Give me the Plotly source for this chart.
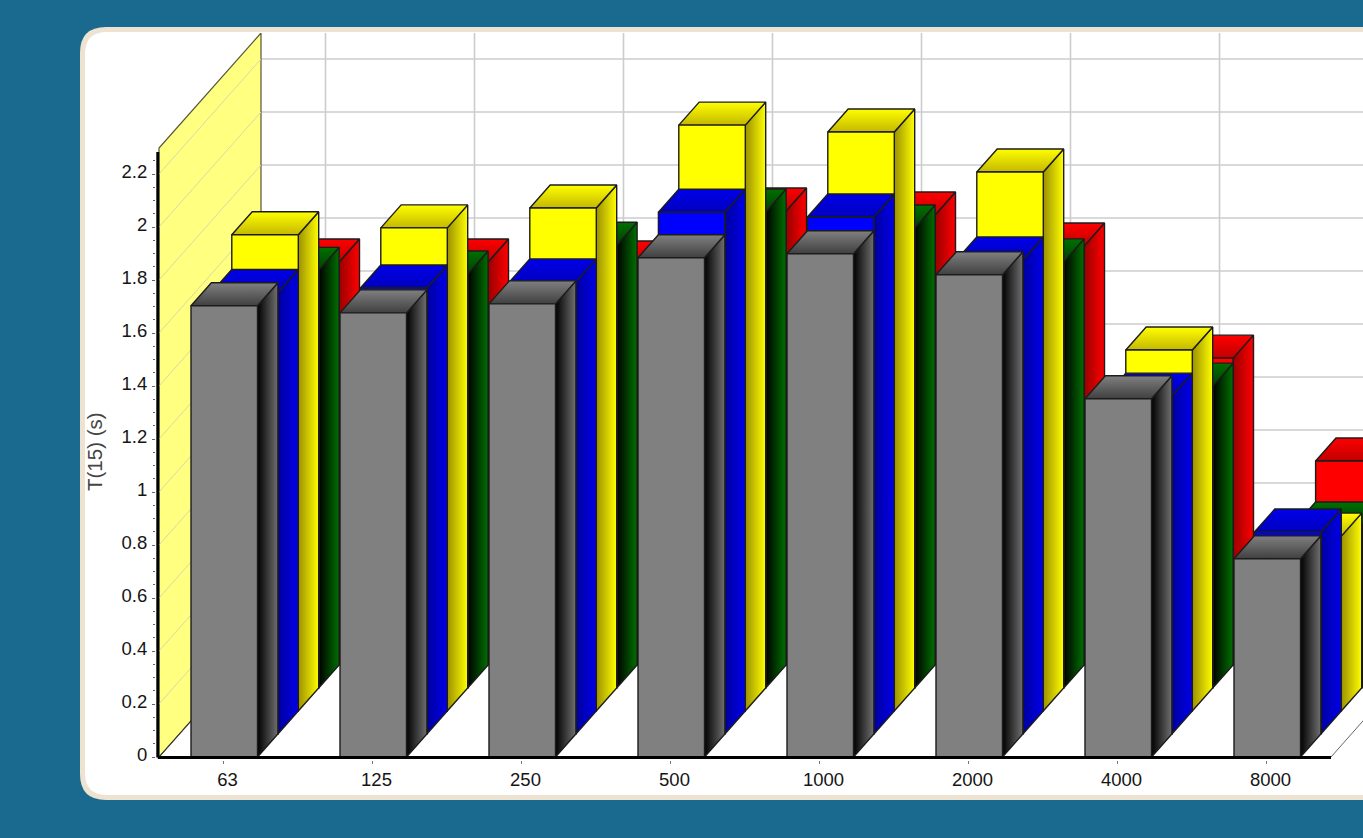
import plotly.graph_objects as go

# Reverberation time per octave band, five measurement series
bands = ["63", "125", "250", "500", "1000", "2000", "4000", "8000"]
gray_vals = [1.703, 1.676, 1.710, 1.884, 1.899, 1.820, 1.352, 0.748]
blue_vals = [1.666, 1.683, 1.706, 1.969, 1.951, 1.789, 1.275, 0.762]
yellow_vals = [1.797, 1.823, 1.898, 2.211, 2.185, 2.034, 1.362, 0.660]
green_vals = [1.576, 1.562, 1.671, 1.796, 1.736, 1.608, 1.139, 0.615]
red_vals = [1.521, 1.521, 1.513, 1.713, 1.698, 1.581, 1.158, 0.770]

y_ticks = [0, 0.2, 0.4, 0.6, 0.8, 1, 1.2, 1.4, 1.6, 1.8, 2, 2.2]
y_tick_text = ["0", "0.2", "0.4", "0.6", "0.8", "1", "1.2", "1.4", "1.6", "1.8", "2", "2.2"]

# Page and plot-area geometry; the plot area overhangs the origin by PAD px so
# the heavy axis lines are not cut by its clip region
W, H = 1363, 838
PAD = 3
M_L, M_R, M_T, M_B = 156, 0, 33, 78
PLOT_W, PLOT_H = W - M_L - M_R, H - M_T - M_B
PX_X = 149.0               # pixels per band
PX_Y = 265.0               # pixels per unit of T
X_MIN, X_MAX = -PAD / PX_X, (PLOT_W - PAD) / PX_X
Y_MIN, Y_MAX = -PAD / PX_Y, (PLOT_H - PAD) / PX_Y

# Oblique projection: every series sits one slab deeper than the previous
SLAB_X = 20.4 / PX_X
SLAB_Y = 23.0 / PX_Y
BAR_W = 66.5 / PX_X
BAR_X0 = 32.0 / PX_X
TICK_X0 = 64.5 / PX_X
N_SLABS = 5
DEPTH_X = N_SLABS * SLAB_X
DEPTH_Y = N_SLABS * SLAB_Y
WALL_TOP = 2.298
AXIS_TOP = 2.283
AXIS_X = -1.2 / PX_X
AXIS_Y = -0.6 / PX_Y
X_AXIS_END = 1172.0 / PX_X

# Back-to-front drawing order: (values, front colour, side dark, side light, top front edge)
series = [
    (red_vals, "#ff0000", "#990000", "#ff0000", "#c00000"),
    (green_vals, "#007000", "#000000", "#007000", "#004000"),
    (yellow_vals, "#ffff00", "#9c9000", "#ffff00", "#c4b800"),
    (blue_vals, "#0000ff", "#0000a0", "#0000e8", "#0000c0"),
    (gray_vals, "#808080", "#000000", "#707070", "#404040"),
]
depths = [4, 3, 2, 1, 0]

EDGE = "#1c1c1c"
fig = go.Figure()


def poly(xs, ys, **kw):
    fig.add_trace(go.Scatter(
        x=xs + xs[:1], y=ys + ys[:1], mode="lines", fill="toself",
        line=dict(color=kw.pop("edge", EDGE), width=kw.pop("width", 1.4)),
        hoverinfo="skip", showlegend=False, **kw))


def line(xs, ys, color, width):
    fig.add_trace(go.Scatter(x=xs, y=ys, mode="lines", line=dict(color=color, width=width),
                             hoverinfo="skip", showlegend=False))


# Back grid
for v in y_ticks:
    line([DEPTH_X, X_MAX], [v + DEPTH_Y, v + DEPTH_Y], "#cccccc", 1.6)
for i in range(len(bands)):
    gx = TICK_X0 + i + DEPTH_X
    line([gx, gx], [DEPTH_Y, WALL_TOP + DEPTH_Y], "#cccccc", 1.6)

# Left wall with its diagonal grid lines
poly([0, 0, DEPTH_X, DEPTH_X], [0, WALL_TOP, WALL_TOP + DEPTH_Y, DEPTH_Y],
     fillcolor="#ffff80", edge="#55553a", width=1.2)
for v in y_ticks[1:]:
    line([0, DEPTH_X], [v, v + DEPTH_Y], "#d8d8a8", 1)
line([0, DEPTH_X], [0, DEPTH_Y], "#333333", 1)
line([X_AXIS_END, X_AXIS_END + DEPTH_X], [0, DEPTH_Y], "#666666", 1)

# Bars: side and top faces carry a gradient, the front face is flat
for (vals, front, side_dark, side_light, top_dark), d in zip(series, depths):
    for i, v in enumerate(vals):
        x0 = i + BAR_X0 + d * SLAB_X
        x1 = x0 + BAR_W
        y0 = d * SLAB_Y
        y1 = y0 + v
        poly([x1, x1, x1 + SLAB_X, x1 + SLAB_X], [y0, y1, y1 + SLAB_Y, y0 + SLAB_Y],
             fillgradient=dict(type="horizontal",
                               colorscale=[[0, side_dark], [1, side_light]]))
        poly([x0, x1, x1 + SLAB_X, x0 + SLAB_X], [y1, y1, y1 + SLAB_Y, y1 + SLAB_Y],
             fillgradient=dict(type="vertical",
                               colorscale=[[0, top_dark], [1, side_light if d != 0 else "#808080"]]))
        poly([x0, x1, x1, x0], [y0, y0, y1, y1], fillcolor=front)

# Axis lines stop short of the plot area's full extent
line([AXIS_X, AXIS_X], [AXIS_Y, AXIS_TOP], "#000000", 3)
line([AXIS_X, X_AXIS_END], [AXIS_Y, AXIS_Y], "#000000", 3)


def px(x):
    return (x - M_L) / PLOT_W


def py(y):
    return (H - M_B - y) / PLOT_H


def card_path(left, top, right, bottom, r):
    return (f"M {px(right)} {py(top)} L {px(left + r)} {py(top)} "
            f"Q {px(left)} {py(top)} {px(left)} {py(top + r)} "
            f"L {px(left)} {py(bottom - r)} "
            f"Q {px(left)} {py(bottom)} {px(left + r)} {py(bottom)} "
            f"L {px(right)} {py(bottom)} Z")


fig.update_layout(
    width=W, height=H,
    autosize=False,
    margin=dict(l=M_L, r=M_R, t=M_T, b=M_B, pad=0),
    paper_bgcolor="#1a6a90",
    plot_bgcolor="rgba(0,0,0,0)",
    showlegend=False,
    shapes=[
        dict(type="path", xref="paper", yref="paper", layer="below",
             path=card_path(80, 27, W + 40, 800, 26), fillcolor="#ede3d0", line=dict(width=0)),
        dict(type="path", xref="paper", yref="paper", layer="below",
             path=card_path(85, 32, W + 40, 795, 22), fillcolor="#ffffff", line=dict(width=0)),
    ],
    xaxis=dict(
        range=[X_MIN, X_MAX], showgrid=False, zeroline=False, showline=False,
        tickmode="array",
        tickvals=[TICK_X0 + i for i in range(len(bands))], ticktext=bands,
        ticks="outside", ticklen=3, tickcolor="#777777", tickwidth=1,
        ticklabelshift=4, ticklabelstandoff=0,
        tickfont=dict(family="Liberation Sans", size=18.5, color="#151515"),
    ),
    yaxis=dict(
        range=[Y_MIN, Y_MAX], showgrid=False, zeroline=False, showline=False,
        tickmode="array", tickvals=y_ticks, ticktext=y_tick_text,
        ticks="outside", ticklen=3, tickcolor="#666666", tickwidth=1,
        ticklabelshift=-2, ticklabelstandoff=1,
        tickfont=dict(family="Liberation Sans", size=18.5, color="#151515"),
        minor=dict(tickmode="array",
                   tickvals=[round(k * 0.05, 2) for k in range(46) if k % 4],
                   ticks="outside", ticklen=2, tickcolor="#666666", tickwidth=1, showgrid=False),
    ),
    annotations=[
        dict(text="T(15) (s)", textangle=-90, xref="paper", yref="paper",
             x=px(94), y=py(452), xanchor="center", yanchor="middle", showarrow=False,
             font=dict(family="Liberation Sans", size=20.5, color="#444444")),
    ],
)

fig.write_html("out.html")
